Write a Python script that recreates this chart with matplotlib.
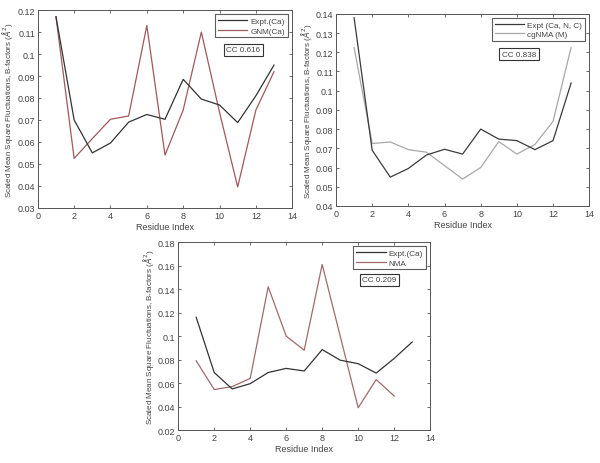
import matplotlib
matplotlib.use("Agg")
import matplotlib.pyplot as plt

plt.rcParams['font.family'] = ['Liberation Sans', 'DejaVu Sans']

residues = list(range(1, 14))
expt_ca = [0.117, 0.070, 0.055, 0.0595, 0.069, 0.0725, 0.0703, 0.0885, 0.0795, 0.0768, 0.0688, 0.081, 0.095]
gnm_ca = [0.117, 0.0525, 0.0615, 0.0703, 0.0718, 0.113, 0.054, 0.0745, 0.110, 0.0735, 0.0395, 0.0745, 0.092]

expt_cnc = [0.138, 0.069, 0.055, 0.0595, 0.0665, 0.0695, 0.067, 0.080, 0.0748, 0.074, 0.0693, 0.074, 0.104]
cgnma = [0.1225, 0.0725, 0.0733, 0.0693, 0.068, 0.061, 0.054, 0.060, 0.0735, 0.067, 0.072, 0.084, 0.1225]

expt_ca3 = [0.116, 0.069, 0.055, 0.0595, 0.069, 0.0725, 0.0703, 0.0885, 0.0795, 0.0765, 0.0685, 0.081, 0.095]
residues_nma = list(range(1, 13))
nma = [0.079, 0.0545, 0.057, 0.064, 0.142, 0.100, 0.088, 0.161, 0.100, 0.039, 0.063, 0.049]

cc_labels = ["CC 0.616", "CC 0.838", "CC 0.209"]

fig = plt.figure(figsize=(6.0, 4.64), dpi=100)

TXT = '#444444'
FS = 6.5
LFS = 5.9


def style(ax, ylim, yticks):
    ax.set_xlim(0, 14)
    ax.set_ylim(*ylim)
    ax.set_xticks(range(0, 15, 2))
    ax.set_yticks(yticks)
    ax.set_yticklabels([('%g' % t) for t in yticks])
    ax.tick_params(direction='in', top=True, right=True, length=2.5, width=0.6,
                   labelsize=FS, colors='#555555', labelcolor=TXT, pad=2)
    for s in ax.spines.values():
        s.set_color('#555555')
        s.set_linewidth(0.7)
    ax.set_xlabel('Residue Index', fontsize=FS, color=TXT, labelpad=1.5)
    ax.set_ylabel(r'Scaled Mean Square Fluctuations, B-factors ($\AA^2$)',
                  fontsize=5.8, color=TXT, labelpad=1.5)


def add_legend(ax, cc, xcc, ycc):
    h, l = ax.get_legend_handles_labels()
    lg = ax.legend(h[::-1], l[::-1], loc='upper right', fontsize=LFS, frameon=True,
                   fancybox=False, handlelength=3.6, borderpad=0.35, labelspacing=0.25,
                   handletextpad=0.4, borderaxespad=0.5)
    lg.get_frame().set_edgecolor('#333333')
    lg.get_frame().set_linewidth(0.8)
    for t in lg.get_texts():
        t.set_color(TXT)
    ax.text(xcc, ycc, cc, transform=ax.transAxes, fontsize=LFS, color=TXT,
            ha='left', va='center',
            bbox=dict(boxstyle='square,pad=0.3', fc='white', ec='#333333', lw=0.8))


# Panel 1
ax1 = fig.add_axes([0.063, 0.550, 0.424, 0.426])
ax1.plot(residues, gnm_ca, color='#a0585c', lw=0.9, label='GNM(Ca)')
ax1.plot(residues, expt_ca, color='#333333', lw=0.9, label='Expt.(Ca)')
style(ax1, (0.03, 0.12), [0.03, 0.04, 0.05, 0.06, 0.07, 0.08, 0.09, 0.1, 0.11, 0.12])
add_legend(ax1, cc_labels[0], 0.74, 0.80)

# Panel 2
ax2 = fig.add_axes([0.560, 0.554, 0.422, 0.414])
ax2.plot(residues, cgnma, color='#a8a8a8', lw=0.9, label='cgNMA (M)')
ax2.plot(residues, expt_cnc, color='#3a3a3a', lw=0.9, label='Expt (Ca, N, C)')
style(ax2, (0.04, 0.14), [0.04, 0.05, 0.06, 0.07, 0.08, 0.09, 0.1, 0.11, 0.12, 0.13, 0.14])
add_legend(ax2, cc_labels[1], 0.655, 0.79)

# Panel 3
ax3 = fig.add_axes([0.297, 0.071, 0.420, 0.405])
ax3.plot(residues_nma, nma, color='#a06a6c', lw=0.9, label='NMA')
ax3.plot(residues, expt_ca3, color='#333333', lw=0.9, label='Expt.(Ca)')
style(ax3, (0.02, 0.18), [0.02, 0.04, 0.06, 0.08, 0.1, 0.12, 0.14, 0.16, 0.18])
add_legend(ax3, cc_labels[2], 0.73, 0.80)

fig.savefig('out.png', dpi=100)
